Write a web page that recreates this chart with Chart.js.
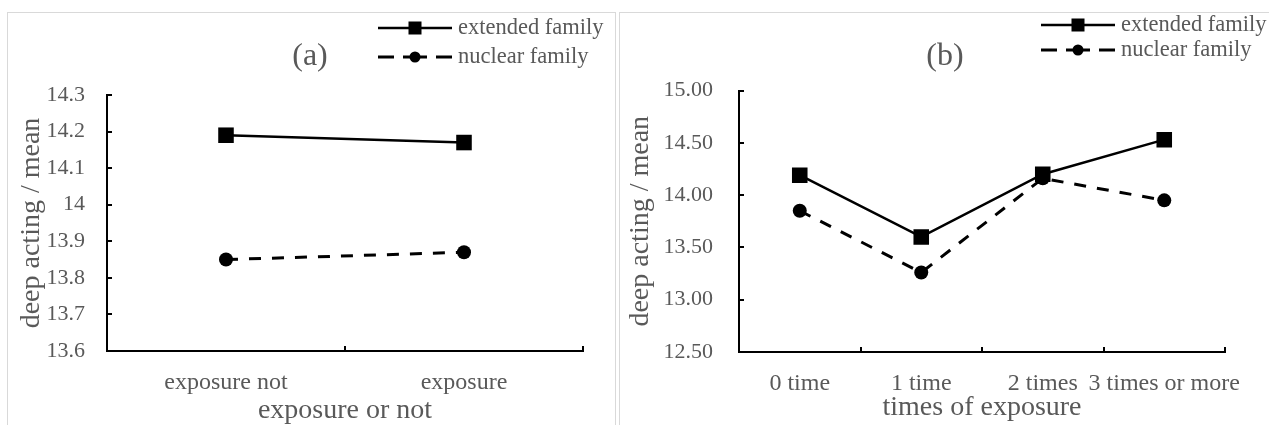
<!DOCTYPE html>
<html lang="en">
<head>
<meta charset="UTF-8">
<title>Deep acting by family type</title>
<script src="https://cdn.jsdelivr.net/npm/chart.js"></script>
<style>
  body { margin: 0; background: #fff; width: 1269px; height: 425px; overflow: hidden; position: relative; }
  .frame { position: absolute; border: 1px solid #d9d9d9; box-sizing: border-box; }
  canvas { position: absolute; }
</style>
</head>
<body>
<div class="frame" style="left:7px;top:12px;width:609px;height:440px"></div>
<div class="frame" style="left:619px;top:12px;width:680px;height:440px"></div>
<canvas id="chartA" width="607" height="412" style="left:8px;top:13px"></canvas>
<canvas id="chartB" width="649" height="412" style="left:620px;top:13px"></canvas>

<script>
// panel (a)
const groupsA = ['exposure not', 'exposure'];
const extendedA = [14.19, 14.17];
const nuclearA = [13.85, 13.87];
const yTicksA = [13.6, 13.7, 13.8, 13.9, 14, 14.1, 14.2, 14.3];

// panel (b)
const groupsB = ['0 time', '1 time', '2 times', '3 times or more'];
const extendedB = [14.19, 13.60, 14.20, 14.53];
const nuclearB = [13.85, 13.26, 14.16, 13.95];
const yTicksB = [12.5, 13.0, 13.5, 14.0, 14.5, 15.0];

const seriesNames = ['extended family', 'nuclear family'];
const yTitle = 'deep acting / mean';

const FONT = '"Liberation Serif", "Times New Roman", serif';
const GRAY = '#595959';

// draws the "(a)" label and the legend at fixed spots
function panelDecor(label, lx, ly, legX, legY, rowGap) {
  return {
    id: 'decor',
    afterDraw(chart) {
      const ctx = chart.ctx;
      ctx.save();
      ctx.fillStyle = GRAY;
      ctx.font = '32px ' + FONT;
      ctx.textAlign = 'center';
      ctx.textBaseline = 'middle';
      ctx.fillText(label, lx, ly);

      const mid = legX + 37;
      // row 1: solid + square
      ctx.strokeStyle = '#000';
      ctx.lineWidth = 2.5;
      ctx.beginPath();
      ctx.moveTo(legX, legY);
      ctx.lineTo(legX + 74, legY);
      ctx.stroke();
      ctx.fillStyle = '#000';
      ctx.fillRect(mid - 6.5, legY - 6.5, 13, 13);

      // row 2: dashed + circle
      const y2 = legY + rowGap;
      ctx.lineWidth = 3;
      ctx.setLineDash([12, 9, 16, 9]);
      ctx.beginPath();
      ctx.moveTo(mid, y2); ctx.lineTo(legX, y2);
      ctx.moveTo(mid, y2); ctx.lineTo(legX + 74, y2);
      ctx.stroke();
      ctx.setLineDash([]);
      ctx.beginPath();
      ctx.arc(mid, y2, 5.5, 0, Math.PI * 2);
      ctx.fill();

      ctx.fillStyle = GRAY;
      ctx.font = '22.5px ' + FONT;
      ctx.textAlign = 'left';
      ctx.fillText(seriesNames[0], legX + 80, legY);
      ctx.fillText(seriesNames[1], legX + 80, y2);
      ctx.restore();
    }
  };
}

function makeChart(id, cfg) {
  return new Chart(document.getElementById(id), {
    type: 'line',
    data: {
      labels: cfg.labels,
      datasets: [
        {
          label: seriesNames[0],
          data: cfg.extended,
          borderColor: '#000',
          backgroundColor: '#000',
          borderWidth: 2.5,
          pointStyle: 'rect',
          pointRadius: 11,
          pointBorderWidth: 0,
          tension: 0
        },
        {
          label: seriesNames[1],
          data: cfg.nuclear,
          borderColor: '#000',
          backgroundColor: '#000',
          borderWidth: 3,
          borderDash: [12, 11],
          pointStyle: 'circle',
          pointRadius: 7,
          pointBorderWidth: 0,
          tension: 0
        }
      ]
    },
    options: {
      responsive: false,
      animation: false,
      layout: { padding: { left: 0, top: cfg.top, right: cfg.right, bottom: 0 } },
      plugins: { legend: { display: false }, tooltip: { enabled: false } },
      scales: {
        x: {
          type: 'category',
          offset: true,
          afterFit: s => { s.height = cfg.xHeight; },
          grid: { offset: true, drawOnChartArea: false, drawTicks: true, tickLength: -5, color: '#000', lineWidth: 2 },
          border: { display: true, color: '#000', width: 2 },
          ticks: { color: GRAY, font: { family: FONT, size: 24 }, padding: 22, maxRotation: 0, autoSkip: false },
          title: { display: true, text: cfg.xTitle, color: GRAY, font: { family: FONT, size: 28, lineHeight: 1 }, padding: { top: 0, bottom: cfg.xTitlePad } }
        },
        y: {
          min: cfg.yTicks[0],
          max: cfg.yTicks[cfg.yTicks.length - 1],
          afterFit: s => { s.width = cfg.yWidth; },
          afterBuildTicks: s => { s.ticks = cfg.yTicks.map(v => ({ value: v })); },
          grid: { drawOnChartArea: false, drawTicks: true, tickLength: -5, color: '#000', lineWidth: 2 },
          border: { display: true, color: '#000', width: 2 },
          ticks: { color: GRAY, font: { family: FONT, size: 22 }, padding: cfg.yPad, callback: cfg.fmt },
          title: { display: true, text: yTitle, color: GRAY, font: { family: FONT, size: 28, lineHeight: 1 }, padding: { top: cfg.yTitlePad, bottom: 0 } }
        }
      }
    },
    plugins: [cfg.decor]
  });
}

makeChart('chartA', {
  labels: groupsA, extended: extendedA, nuclear: nuclearA, yTicks: yTicksA,
  fmt: v => String(+v.toFixed(1)),
  xTitle: 'exposure or not',
  top: 82, right: 32, xHeight: 74, yWidth: 99, yPad: 27, yTitlePad: 10, xTitlePad: 0,
  decor: panelDecor('(a)', 302, 44, 370, 15, 29)
});

makeChart('chartB', {
  labels: groupsB, extended: extendedB, nuclear: nuclearB, yTicks: yTicksB,
  fmt: v => v.toFixed(2),
  xTitle: 'times of exposure',
  top: 77.5, right: 44, xHeight: 73, yWidth: 119, yPad: 31, yTitlePad: 7, xTitlePad: 3,
  decor: panelDecor('(b)', 325, 44, 421, 12, 25)
});
</script>
</body>
</html>
